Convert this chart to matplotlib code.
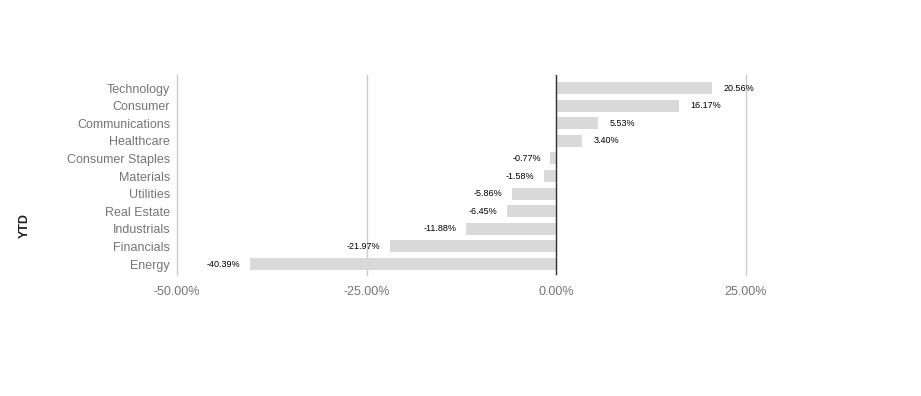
import matplotlib
matplotlib.use("Agg")
import matplotlib.pyplot as plt
from matplotlib.ticker import FuncFormatter

categories = ["Technology", "Consumer", "Communications", "Healthcare", "Consumer Staples",
              "Materials", "Utilities", "Real Estate", "Industrials", "Financials", "Energy"]
values = [20.56, 16.17, 5.53, 3.40, -0.77, -1.58, -5.86, -6.45, -11.88, -21.97, -40.39]
xticks = [-50, -25, 0, 25]

plt.rcParams['font.family'] = ['Liberation Sans', 'DejaVu Sans']

fig = plt.figure(figsize=(9.21, 3.96), dpi=100)
ax = fig.add_axes([177/921, 1-275/396, (746-177)/921, 200/396])

y = list(range(len(categories)))
ax.barh(y, values, height=0.68, color="#d9d9d9", zorder=2)
ax.set_yticks(y)
ax.set_yticklabels(categories)
ax.set_ylim(len(categories)-1+0.625, -0.74)
ax.set_xlim(-50, 25)
ax.set_xticks(xticks)
ax.xaxis.set_major_formatter(FuncFormatter(lambda v, p: f"{v:.2f}%"))
ax.grid(axis="x", color="#cccccc", linewidth=1, zorder=0)
for gl in ax.get_xgridlines():
    gl.set_clip_on(False)
ax.axvline(0, color="#333333", linewidth=1, zorder=3)
for s in ax.spines.values():
    s.set_visible(False)
ax.tick_params(axis="both", length=0, colors="#757575", labelsize=9)
ax.tick_params(axis="y", pad=5)
ax.tick_params(axis="x", pad=8)

for yi, v in zip(y, values):
    if v >= 0:
        ax.annotate(f"{v:.2f}%", (v, yi), xytext=(8, 0), textcoords="offset points",
                    ha="left", va="center", fontsize=6.5, color="#000000")
    else:
        ax.annotate(f"{v:.2f}%", (v, yi), xytext=(-7, 0), textcoords="offset points",
                    ha="right", va="center", fontsize=6.5, color="#000000")

fig.text(25/921, 1-225/396, "YTD", rotation=90, ha="center", va="center",
         fontsize=9, fontweight="bold", color="#222222")

fig.savefig("out.png", dpi=100, facecolor="white")
